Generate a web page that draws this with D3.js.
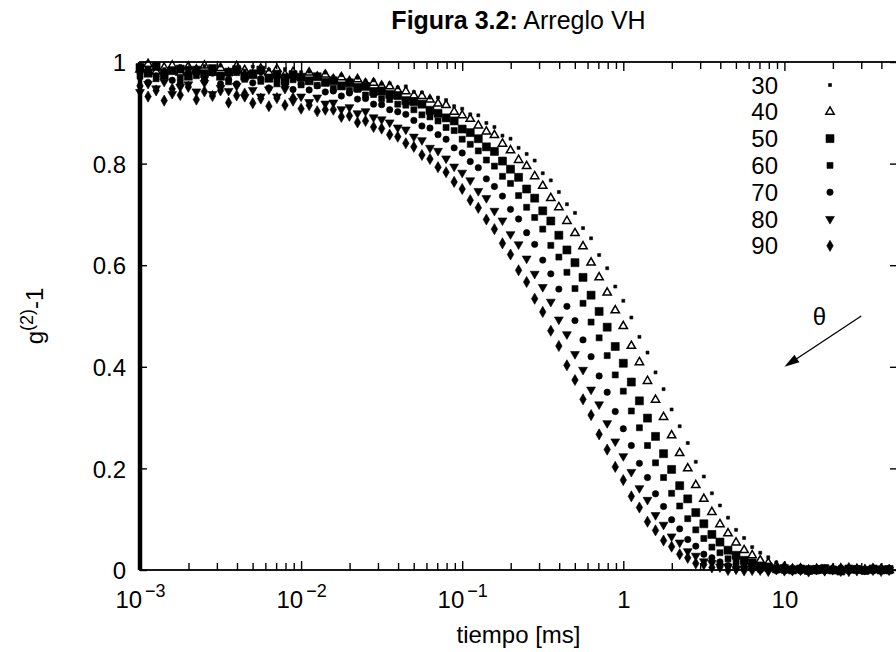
<!DOCTYPE html>
<html>
<head>
<meta charset="utf-8">
<script src="https://cdn.jsdelivr.net/npm/d3@7/dist/d3.min.js"></script>
<style>
  body { margin: 0; background: #fff; }
  svg { display: block; }
  text { font-family: "Liberation Sans", Arial, Helvetica, sans-serif; fill: #000; }
</style>
</head>
<body>
<svg id="chart" width="896" height="652"></svg>
<script>
// Correlator lag times, ms
const lagTimes = [
  0.001000,0.001122,0.001259,0.001413,0.001585,0.001778,0.001995,0.002239,0.002512,0.002818,
  0.003162,0.003548,0.003981,0.004467,0.005012,0.005623,0.006310,0.007079,0.007943,0.008913,
  0.01000,0.01122,0.01259,0.01413,0.01585,0.01778,0.01995,0.02239,0.02512,0.02818,
  0.03162,0.03548,0.03981,0.04467,0.05012,0.05623,0.06310,0.07079,0.07943,0.08913,
  0.1000,0.1122,0.1259,0.1413,0.1585,0.1778,0.1995,0.2239,0.2512,0.2818,
  0.3162,0.3548,0.3981,0.4467,0.5012,0.5623,0.6310,0.7079,0.7943,0.8913,
  1.000,1.122,1.259,1.413,1.585,1.778,1.995,2.239,2.512,2.818,
  3.162,3.548,3.981,4.467,5.012,5.623,6.310,7.079,7.943,8.913,
  10.00,11.22,12.59,14.13,15.85,17.78,19.95,22.39,25.12,28.18,
  31.62,35.48,39.81,44.67
];

// Scattering angles (degrees)
const angles = [30, 40, 50, 60, 70, 80, 90];

// g(2)-1 for each angle, one value per lag time
const g30 = [0.992,0.982,0.996,0.986,0.981,0.992,0.988,0.979,0.992,0.983,
  0.993,0.980,0.987,0.983,0.991,0.977,0.985,0.977,0.986,0.972,
  0.980,0.981,0.973,0.979,0.971,0.974,0.965,0.969,0.963,0.964,
  0.957,0.958,0.950,0.952,0.941,0.940,0.930,0.930,0.925,0.913,
  0.908,0.897,0.895,0.880,0.872,0.855,0.849,0.831,0.819,0.806,
  0.781,0.767,0.744,0.720,0.703,0.673,0.653,0.620,0.594,0.558,
  0.530,0.497,0.459,0.428,0.389,0.356,0.316,0.283,0.250,0.213,
  0.184,0.151,0.127,0.103,0.079,0.063,0.045,0.034,0.025,0.015,
  0.011,0.007,0.003,0.004,
  0.001,-0.001,0.002,0.000,0.003,0.001,-0.001,0.002,0.000,0.001];

const g40 = [0.985,0.996,0.981,0.989,0.993,0.979,0.991,0.985,0.993,0.979,
  0.988,0.979,0.992,0.984,0.975,0.987,0.979,0.986,0.975,0.980,
  0.970,0.979,0.971,0.975,0.966,0.970,0.962,0.966,0.958,0.959,
  0.953,0.952,0.944,0.942,0.934,0.933,0.926,0.918,0.915,0.902,
  0.895,0.888,0.875,0.863,0.856,0.839,0.826,0.807,0.795,0.775,
  0.756,0.732,0.714,0.687,0.663,0.637,0.605,0.576,0.546,0.511,
  0.480,0.441,0.409,0.372,0.335,0.301,0.265,0.230,0.200,0.167,
  0.140,0.114,0.090,0.072,0.054,0.039,0.029,0.019,0.014,0.008,
  0.006,0.002,0.003,
  0.000,0.002,-0.001,0.001,0.003,0.000,0.002,-0.001,0.001,0.002,0.000];

const g50 = [0.989,0.978,0.991,0.974,0.983,0.986,0.972,0.984,0.977,0.987,
  0.972,0.980,0.985,0.972,0.975,0.984,0.968,0.976,0.963,0.975,
  0.970,0.963,0.971,0.960,0.963,0.953,0.959,0.950,0.952,0.942,
  0.943,0.936,0.934,0.924,0.922,0.917,0.905,0.899,0.890,0.884,
  0.868,0.861,0.849,0.833,0.824,0.805,0.789,0.773,0.750,0.732,
  0.707,0.687,0.659,0.630,0.605,0.576,0.541,0.509,0.478,0.440,
  0.407,0.370,0.333,0.299,0.263,0.229,0.198,0.166,0.140,0.113,
  0.091,0.070,0.055,0.039,0.029,0.019,0.014,0.008,0.006,0.002,
  0.003,
  0.000,0.002,-0.001,0.001,0.003,0.000,-0.002,0.002,0.001,-0.001,0.002,0.000,0.001];

const g60 = [0.972,0.986,0.967,0.979,0.983,0.968,0.985,0.973,0.965,0.980,
  0.974,0.961,0.979,0.966,0.979,0.962,0.970,0.957,0.971,0.965,
  0.955,0.963,0.954,0.959,0.948,0.952,0.944,0.946,0.935,0.936,
  0.928,0.926,0.917,0.915,0.906,0.896,0.892,0.884,0.871,0.865,
  0.848,0.838,0.825,0.807,0.795,0.775,0.761,0.737,0.714,0.694,
  0.671,0.639,0.616,0.586,0.554,0.525,0.488,0.457,0.422,0.384,
  0.352,0.313,0.280,0.245,0.211,0.182,0.151,0.126,0.101,0.079,
  0.062,0.045,0.034,0.022,0.017,0.009,0.007,0.002,0.003,
  0.001,-0.001,0.002,0.000,0.003,-0.002,0.001,0.002,-0.001,0.000,0.003,-0.001,0.002,0.001,-0.002];

const g70 = [0.979,0.960,0.973,0.981,0.964,0.958,0.974,0.978,0.964,0.978,
  0.957,0.966,0.957,0.975,0.959,0.967,0.949,0.966,0.954,0.946,
  0.956,0.945,0.953,0.941,0.943,0.933,0.939,0.927,0.928,0.917,
  0.916,0.906,0.902,0.897,0.885,0.874,0.870,0.857,0.848,0.831,
  0.821,0.804,0.792,0.770,0.755,0.736,0.710,0.691,0.664,0.641,
  0.610,0.583,0.553,0.519,0.491,0.453,0.420,0.382,0.350,0.312,
  0.278,0.245,0.210,0.182,0.150,0.125,0.099,0.081,0.060,0.047,
  0.031,0.024,0.016,0.009,0.008,0.003,0.003,
  0.000,0.002,-0.001,0.001,0.003,-0.002,0.000,0.002,-0.001,0.001,0.004,-0.001,0.002,0.000,-0.002,0.001,0.003];

const g80 = [0.941,0.957,0.948,0.961,0.937,0.951,0.956,0.942,0.959,0.937,
  0.949,0.943,0.953,0.931,0.945,0.932,0.946,0.932,0.947,0.923,
  0.932,0.921,0.930,0.918,0.920,0.907,0.911,0.899,0.903,0.891,
  0.887,0.881,0.871,0.867,0.853,0.846,0.831,0.825,0.810,0.794,
  0.782,0.767,0.746,0.732,0.707,0.688,0.661,0.641,0.613,0.583,
  0.557,0.528,0.493,0.464,0.425,0.394,0.355,0.326,0.289,0.253,
  0.224,0.193,0.161,0.138,0.108,0.089,0.066,0.054,0.037,0.028,
  0.017,0.014,0.007,0.007,0.002,0.003,
  -0.001,0.002,0.000,0.003,-0.002,0.001,-0.001,0.002,0.004,-0.002,0.000,0.001,-0.003,0.002,0.001,-0.001,0.003,0.000];

const g90 = [0.953,0.932,0.944,0.924,0.947,0.935,0.951,0.926,0.942,0.933,
  0.944,0.920,0.934,0.938,0.919,0.928,0.913,0.929,0.915,0.929,
  0.908,0.915,0.903,0.906,0.906,0.892,0.894,0.881,0.884,0.872,
  0.869,0.857,0.853,0.840,0.833,0.817,0.809,0.793,0.783,0.764,
  0.750,0.728,0.713,0.690,0.671,0.643,0.621,0.590,0.567,0.534,
  0.508,0.471,0.441,0.403,0.374,0.336,0.305,0.267,0.237,0.203,
  0.177,0.145,0.123,0.095,0.078,0.058,0.046,0.031,0.024,0.013,
  0.011,0.005,0.006,0.000,
  0.002,-0.001,0.003,0.000,-0.002,0.001,0.003,-0.001,0.002,-0.003,0.001,0.000,0.002,-0.002,0.004,-0.001,0.001,0.003,-0.002,0.000];

// Axis ticks
const xMajorTicks = [0.001, 0.01, 0.1, 1, 10];
const xTickBase = ["10", "10", "10", "1", "10"];
const xTickExp = ["\u22123", "\u22122", "\u22121", "", ""];
const yTicks = [0, 0.2, 0.4, 0.6, 0.8, 1];
const yTickLabels = ["0", "0.2", "0.4", "0.6", "0.8", "1"];

// Annotation: arrow pointing towards increasing angle
const arrowFrom = [30, 0.5];
const arrowTo = [10, 0.4];
const thetaAt = [15, 0.5];

const valuesByAngle = {30: g30, 40: g40, 50: g50, 60: g60, 70: g70, 80: g80, 90: g90};

// Marker style per angle
const markerStyle = {
  30: {type: d3.symbolSquare, size: 9, fill: true, rotate: 0},
  40: {type: d3.symbolTriangle, size: 30, fill: false, rotate: 0},
  50: {type: d3.symbolSquare, size: 64, fill: true, rotate: 0},
  60: {type: d3.symbolSquare, size: 36, fill: true, rotate: 0},
  70: {type: d3.symbolCircle, size: 32, fill: true, rotate: 0},
  80: {type: d3.symbolTriangle, size: 34, fill: true, rotate: 180},
  90: {type: d3.symbolDiamond, size: 36, fill: true, rotate: 0}
};

const plot = {left: 140, right: 897, top: 62, bottom: 570};
const FONT = 24;

const svg = d3.select("#chart");

const x = d3.scaleLog().domain([0.001, 50]).range([plot.left, plot.right]);
const y = d3.scaleLinear().domain([0, 1]).range([plot.bottom, plot.top]);

const xMinorTicks = x.ticks().filter(v => !xMajorTicks.some(m => Math.abs(m - v) / m < 1e-9));

function styleAxis(g) {
  g.select(".domain").remove();
  g.selectAll(".tick line").attr("stroke", "#000").attr("stroke-width", 1.4);
}

// Bottom axis: major ticks with labels, minor ticks without
const xMajor = svg.append("g")
  .attr("transform", `translate(0,${plot.bottom})`)
  .call(d3.axisBottom(x).tickValues(xMajorTicks).tickSize(-9).tickSizeOuter(0).tickFormat(""))
  .call(styleAxis);
xMajor.selectAll(".tick text").remove();
xMajor.selectAll(".tick").each(function(d, i) {
  const t = d3.select(this).append("text")
    .attr("y", 38)
    .attr("text-anchor", "middle")
    .attr("font-size", FONT);
  t.append("tspan").text(xTickBase[i]);
  if (xTickExp[i]) {
    t.append("tspan").attr("dx", 3).attr("dy", -11).attr("font-size", 18).text(xTickExp[i]);
  }
});
svg.append("g")
  .attr("transform", `translate(0,${plot.bottom})`)
  .call(d3.axisBottom(x).tickValues(xMinorTicks).tickSize(-7).tickSizeOuter(0).tickFormat(""))
  .call(styleAxis);

// Top mirror ticks
svg.append("g")
  .attr("transform", `translate(0,${plot.top})`)
  .call(d3.axisTop(x).tickValues(xMajorTicks).tickSize(-9).tickSizeOuter(0).tickFormat(""))
  .call(styleAxis);
svg.append("g")
  .attr("transform", `translate(0,${plot.top})`)
  .call(d3.axisTop(x).tickValues(xMinorTicks).tickSize(-7).tickSizeOuter(0).tickFormat(""))
  .call(styleAxis);

// Left axis with labels
const yAxisG = svg.append("g")
  .attr("transform", `translate(${plot.left},0)`)
  .call(d3.axisLeft(y).tickValues(yTicks).tickSize(-7).tickSizeOuter(0).tickPadding(14)
    .tickFormat((d, i) => yTickLabels[i]))
  .call(styleAxis);
yAxisG.selectAll(".tick text")
  .attr("font-size", FONT)
  .attr("font-family", "'Liberation Sans', Arial, Helvetica, sans-serif")
  .attr("fill", "#000")
  .attr("dy", "0.36em");

// Right mirror ticks
svg.append("g")
  .attr("transform", `translate(${plot.right},0)`)
  .call(d3.axisRight(y).tickValues(yTicks).tickSize(-7).tickSizeOuter(0).tickFormat(""))
  .call(styleAxis);

// Frame
svg.append("rect")
  .attr("x", plot.left).attr("y", plot.top)
  .attr("width", plot.right - plot.left).attr("height", plot.bottom - plot.top)
  .attr("fill", "none").attr("stroke", "#000").attr("stroke-width", 1.8);
svg.append("line")
  .attr("x1", plot.left).attr("x2", plot.left)
  .attr("y1", plot.top).attr("y2", plot.bottom)
  .attr("stroke", "#000").attr("stroke-width", 4.5);

// Data points
function applyStyle(sel, angle) {
  const s = markerStyle[angle];
  sel.attr("d", d3.symbol().type(s.type).size(s.size)())
    .attr("fill", s.fill ? "#000" : "none")
    .attr("stroke", "#000")
    .attr("stroke-width", s.fill ? 0.6 : 1.5);
}

const dataG = svg.append("g");
angles.forEach(angle => {
  const vals = valuesByAngle[angle];
  const pts = lagTimes.map((t, i) => ({t, v: vals[i]}))
    .filter(p => p.v >= -0.005 && p.v <= 1);
  const s = markerStyle[angle];
  dataG.append("g").selectAll("path")
    .data(pts)
    .join("path")
    .attr("transform", p => `translate(${x(p.t)},${y(p.v)}) rotate(${s.rotate})`)
    .call(sel => applyStyle(sel, angle));
});

// Legend
const legend = svg.append("g");
const legendTextX = 778, legendMarkX = 830, legendTop = 85, legendStep = 26.8;
angles.forEach((angle, i) => {
  const yy = legendTop + i * legendStep;
  legend.append("text")
    .attr("x", legendTextX).attr("y", yy)
    .attr("dy", "0.36em")
    .attr("text-anchor", "end")
    .attr("font-size", FONT)
    .text(angle);
  const s = markerStyle[angle];
  legend.append("path")
    .attr("transform", `translate(${legendMarkX},${yy}) rotate(${s.rotate})`)
    .call(sel => applyStyle(sel, angle));
});

// Arrow and theta label
const ax1 = x(arrowFrom[0]), ay1 = y(arrowFrom[1]);
const ax2 = x(arrowTo[0]), ay2 = y(arrowTo[1]);
const ang = Math.atan2(ay2 - ay1, ax2 - ax1);
const headLen = 15, headHalf = 4.5;
svg.append("line")
  .attr("x1", ax1).attr("y1", ay1)
  .attr("x2", ax2 - Math.cos(ang) * headLen * 0.8).attr("y2", ay2 - Math.sin(ang) * headLen * 0.8)
  .attr("stroke", "#000").attr("stroke-width", 1.3);
const bx = ax2 - Math.cos(ang) * headLen, by = ay2 - Math.sin(ang) * headLen;
svg.append("path")
  .attr("d", `M${ax2},${ay2} L${bx - Math.sin(ang) * headHalf},${by + Math.cos(ang) * headHalf} L${bx + Math.sin(ang) * headHalf},${by - Math.cos(ang) * headHalf} Z`)
  .attr("fill", "#000");
svg.append("text")
  .attr("x", x(thetaAt[0])).attr("y", y(thetaAt[1]))
  .attr("dy", "0.36em")
  .attr("font-size", FONT)
  .text("\u03B8");

// Title
const title = svg.append("text")
  .attr("x", (plot.left + plot.right) / 2).attr("y", 29)
  .attr("text-anchor", "middle")
  .attr("font-size", 25);
title.append("tspan").attr("font-weight", "bold").text("Figura 3.2:");
title.append("tspan").text(" Arreglo VH");

// Axis titles
svg.append("text")
  .attr("x", (plot.left + plot.right) / 2).attr("y", 643)
  .attr("text-anchor", "middle")
  .attr("font-size", FONT)
  .text("tiempo [ms]");

const yl = svg.append("text")
  .attr("transform", `translate(43,${(plot.top + plot.bottom) / 2}) rotate(-90)`)
  .attr("text-anchor", "middle")
  .attr("font-size", FONT);
yl.append("tspan").text("g");
yl.append("tspan").attr("dy", -10).attr("font-size", 18).text("(2)");
yl.append("tspan").attr("dy", 10).text("-1");
</script>
</body>
</html>
